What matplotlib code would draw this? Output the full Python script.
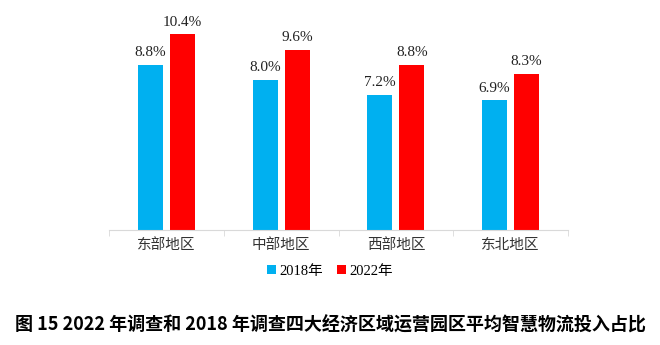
import matplotlib
matplotlib.use("Agg")
import matplotlib.pyplot as plt
import numpy as np

plt.rcParams['font.family'] = ['Liberation Serif', 'Noto Sans CJK SC', 'DejaVu Sans']

categories = ['东部地区', '中部地区', '西部地区', '东北地区']
values_2018 = [8.8, 8.0, 7.2, 6.9]
values_2022 = [10.4, 9.6, 8.8, 8.3]
series_names = ['2018年', '2022年']
title = '图 15 2022 年调查和 2018 年调查四大经济区域运营园区平均智慧物流投入占比'

fig = plt.figure(figsize=(6.6, 3.45), dpi=100)
ax = fig.add_axes([109/660, 1-230/345, (568-109)/660, 210/345])

x = np.arange(len(categories))
w = 0.217
off = 0.139
b1 = ax.bar(x - off, values_2018, w, color='#00B0F0', label=series_names[0])
b2 = ax.bar(x + off, values_2022, w, color='#FF0000', label=series_names[1])

for bars, vals in ((b1, values_2018), (b2, values_2022)):
    for r, v in zip(bars, vals):
        ax.annotate(f'{v:.1f}%', (r.get_x() + r.get_width()/2, v),
                    xytext=(0, 4), textcoords='offset points',
                    ha='center', va='bottom', fontsize=11, color='#222222',
                    family=['Liberation Serif', 'DejaVu Sans'])

ax.set_xlim(-0.5, len(categories) - 0.5)
ax.set_ylim(0, 210/18.8)
for s in ['top', 'right', 'left']:
    ax.spines[s].set_visible(False)
ax.spines['bottom'].set_color('#D9D9D9')
ax.set_yticks([])
ax.set_xticks(np.arange(len(categories) + 1) - 0.5, minor=True)
ax.set_xticks(x)
ax.set_xticklabels(categories, fontsize=10.5, color='#333333',
                   family=['Noto Sans CJK SC', 'DejaVu Sans'])
ax.tick_params(axis='x', which='major', length=0, pad=6)
ax.tick_params(axis='x', which='minor', length=4, color='#D9D9D9')

leg = fig.legend(handles=[b1, b2], labels=series_names, loc='center',
                 bbox_to_anchor=(0.5, 1-271/345), ncol=2, frameon=False,
                 handlelength=0.6, handleheight=0.6, handletextpad=0.2,
                 columnspacing=1.0, prop={'family': ['Liberation Serif', 'Noto Sans CJK SC'], 'size': 10.5})

fig.text(0.5, 1-325/345, title, ha='center', va='center', fontsize=13,
         fontweight='bold', family=['Noto Sans CJK SC', 'DejaVu Sans'])

fig.savefig('out.png', dpi=100)
